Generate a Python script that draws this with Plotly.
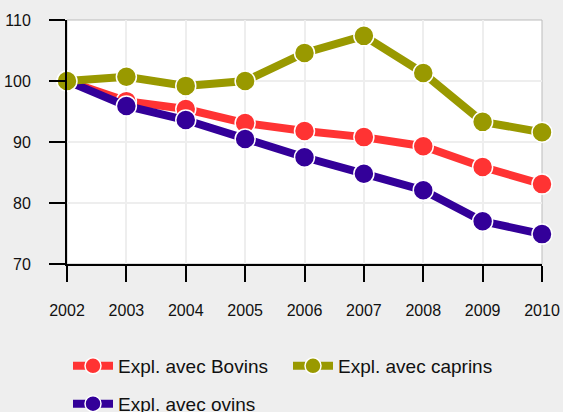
import plotly.graph_objects as go

years = [2002, 2003, 2004, 2005, 2006, 2007, 2008, 2009, 2010]
bovins = [100, 96.7, 95.4, 93.1, 91.8, 90.8, 89.3, 85.9, 83.1]
caprins = [100, 100.7, 99.2, 100.0, 104.6, 107.4, 101.3, 93.3, 91.6]
ovins = [100, 95.9, 93.6, 90.5, 87.5, 84.8, 82.1, 77.0, 74.9]
y_ticks = [70, 80, 90, 100, 110]

names = ["Expl. avec Bovins", "Expl. avec caprins", "Expl. avec ovins"]
colors = ["#ff3333", "#999900", "#330099"]

fig = go.Figure()

def add(y, name, color, rank, legend):
    fig.add_trace(go.Scatter(
        x=years, y=y, name=name, mode="lines+markers",
        line=dict(color=color, width=8),
        marker=dict(color=color, size=20, line=dict(color="white", width=1.5)),
        cliponaxis=False, legendrank=rank, legend=legend,
    ))

add(bovins, names[0], colors[0], 1, "legend")
add(ovins, names[2], colors[2], 3, "legend2")
add(caprins, names[1], colors[1], 2, "legend")

font = dict(family="Liberation Sans, Arial, sans-serif", size=19, color="#111111")

fig.update_layout(
    width=563, height=412,
    margin=dict(l=67, r=21, t=20, b=148),
    paper_bgcolor="#eeeeee", plot_bgcolor="white",
    font=dict(family="Liberation Sans, Arial, sans-serif", size=16, color="#111111"),
    legend=dict(orientation="h", x=68 / 563, xanchor="left", xref="container",
                y=0.158, yanchor="top", yref="container", itemwidth=40,
                font=font, entrywidth=165, bgcolor="rgba(0,0,0,0)", itemsizing="trace"),
    legend2=dict(orientation="h", x=68 / 563, xanchor="left", xref="container",
                 y=0.066, yanchor="top", yref="container", itemwidth=40,
                 font=font, bgcolor="rgba(0,0,0,0)", itemsizing="trace"),
    shapes=[dict(type="rect", xref="paper", yref="paper", x0=0, x1=1, y0=0, y1=1,
                 line=dict(color="#bbbbbb", width=1), layer="below")],
)
fig.update_xaxes(range=[2002, 2010], tickmode="array", tickvals=years,
                 ticktext=[str(y) for y in years], automargin=False,
                 showgrid=True, gridcolor="#eeeeee", gridwidth=2,
                 showline=True, linecolor="black", linewidth=2,
                 ticks="outside", ticklen=16, tickwidth=2, tickcolor="black",
                 ticklabelstandoff=15, zeroline=False)
fig.update_yaxes(range=[70, 110], tickmode="array", tickvals=y_ticks, automargin=False,
                 showgrid=True, gridcolor="#eeeeee", gridwidth=2,
                 showline=True, linecolor="black", linewidth=2,
                 ticks="outside", ticklen=16, tickwidth=2, tickcolor="black",
                 ticklabelstandoff=15, zeroline=False)

fig.write_html(
    "out.html",
    config={"displayModeBar": False},
    post_script="document.body.style.margin='0';document.body.style.background='#eeeeee';",
)
